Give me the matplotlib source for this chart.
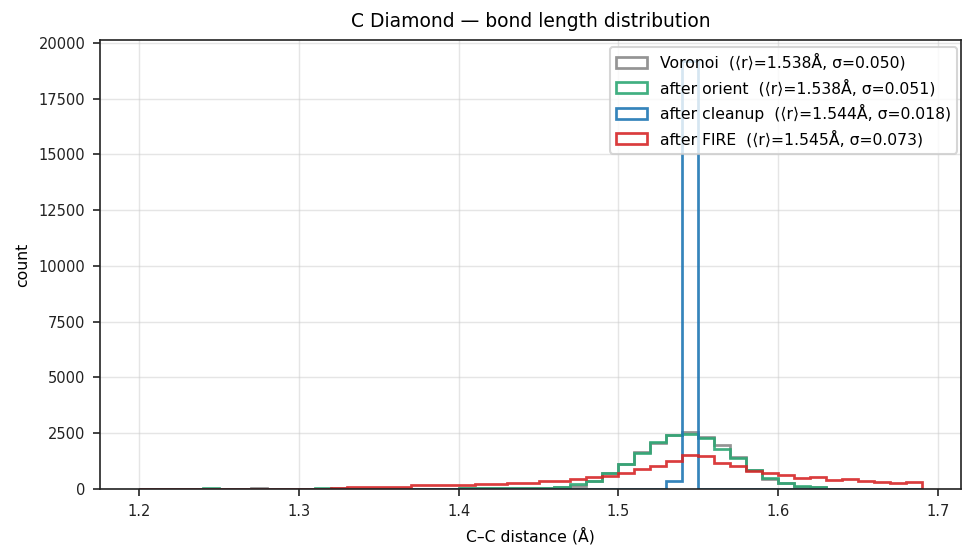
import numpy as np
import matplotlib
matplotlib.use("Agg")
import matplotlib.pyplot as plt

# bin edges 1.20 .. 1.69 (0.01 wide)
edges = np.round(np.arange(1.20, 1.6951, 0.01), 2)

# counts per bin, bins starting at 1.20, 1.21, ..., 1.68
voronoi = [0, 0, 0, 0, 0, 0, 0, 30, 0, 0, 0, 5, 30,
           5, 5, 5, 10, 10, 10, 10,
           30, 35, 35, 40, 40, 45,
           90, 150, 340, 720, 1110, 1650, 2080, 2400, 2570, 2310, 1960, 1440,
           830, 440, 250, 110, 80, 20, 10, 5, 5, 0, 0]
orient = [0, 0, 0, 0, 30, 0, 0, 0, 0, 0, 0, 30, 5,
          5, 5, 5, 10, 10, 10, 10,
          40, 40, 45, 45, 50, 55,
          100, 210, 370, 700, 1120, 1620, 2090, 2400, 2470, 2300, 1780, 1370,
          840, 510, 270, 120, 90, 20, 10, 5, 5, 0, 0]
cleanup = [0] * 33 + [370, 19170] + [0] * 14
fire = [5, 5, 5, 5, 10, 10, 10, 10, 10, 15, 15, 20, 30,
        70, 70, 110, 110, 160, 160, 160,
        200, 240, 240, 275, 275, 370,
        370, 430, 520, 580, 715, 900, 1040, 1270, 1510, 1460, 1150, 1030,
        810, 700, 615, 495, 540, 405, 450, 360, 315, 255, 315]

labels = [
    "Voronoi  (⟨r⟩=1.538Å, σ=0.050)",
    "after orient  (⟨r⟩=1.538Å, σ=0.051)",
    "after cleanup  (⟨r⟩=1.544Å, σ=0.018)",
    "after FIRE  (⟨r⟩=1.545Å, σ=0.073)",
]
colors = ["#888888", "#2ca673", "#1f77b4", "#d62728"]

fig = plt.figure(figsize=(974 / 150, 557 / 150), dpi=150)
ax = fig.add_axes([0.1027, 0.1221, 0.8840, 0.8061])

centers = edges[:-1] + 0.005
for vals, lab, col in zip([voronoi, orient, cleanup, fire], labels, colors):
    ax.hist(centers, bins=edges, weights=vals, histtype="step",
            color=col, lw=1.3, alpha=0.9, label=lab)

ax.set_xlim(1.1755, 1.7145)
ax.set_ylim(0, 20130)
ax.grid(True, color="#cccccc", alpha=0.5, lw=0.7)
ax.set_axisbelow(True)
ax.tick_params(labelsize=7, colors="#222222")
for s in ax.spines.values():
    s.set_color("#222222")

ax.set_title("C Diamond — bond length distribution", fontsize=9)
ax.set_xlabel("C–C distance (Å)", fontsize=7.5)
ax.set_ylabel("count", fontsize=7.5)
ax.legend(loc="upper right", fontsize=7.5, borderaxespad=0,
          bbox_to_anchor=(957 / 974, 1 - 47 / 557),
          bbox_transform=fig.transFigure)

fig.savefig("out.png", dpi=150)
